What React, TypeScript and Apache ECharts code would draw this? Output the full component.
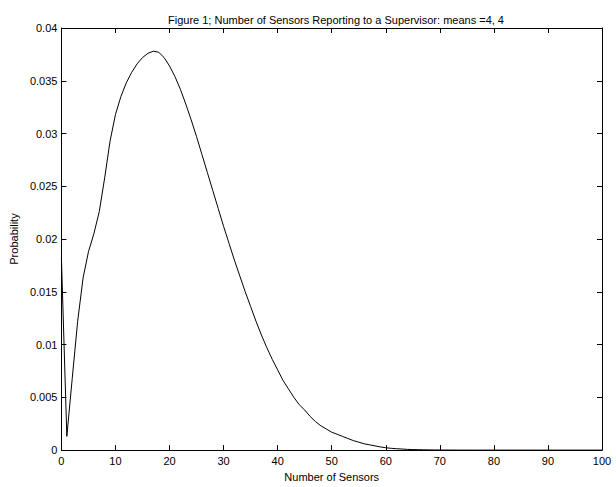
import React, { useEffect, useRef } from "react";
import * as echarts from "echarts";

const titleText = "Figure 1; Number of Sensors Reporting to a Supervisor: means =4, 4";
const xName = "Number of Sensors";
const yName = "Probability";

// probability values at x = 0, 1, 2, ... 100
const probability: number[] = [
  0.0182, 0.0013, 0.0068, 0.0122, 0.0163, 0.0188, 0.0205, 0.0226, 0.0258, 0.0293,
  0.0318, 0.0335, 0.0348, 0.0358, 0.0366, 0.0372, 0.0376, 0.0378, 0.0377, 0.0372,
  0.0364, 0.0354, 0.0342, 0.0328, 0.0313, 0.0297, 0.028, 0.0263, 0.0246, 0.0229,
  0.0212, 0.0196, 0.018, 0.0165, 0.015, 0.0136, 0.0122, 0.0109, 0.0097, 0.0086,
  0.0076, 0.0066, 0.0058, 0.005, 0.0043, 0.0038, 0.0032, 0.0027, 0.0023, 0.002,
  0.0017, 0.0015, 0.0013, 0.0011, 0.0009, 0.00075, 0.0006, 0.0005, 0.0004, 0.0003,
  0.00022, 0.00017, 0.00013, 0.0001, 0.00007, 0.00005, 0.00004, 0.00003, 0.00002, 0.000015,
  0.00001, 0.000007, 0.000005, 0.000003, 0.000002, 0.000001, 0, 0, 0, 0,
  0, 0, 0, 0, 0, 0, 0, 0, 0, 0,
  0, 0, 0, 0, 0, 0, 0, 0, 0, 0,
  0,
];

const xTicks = [0, 10, 20, 30, 40, 50, 60, 70, 80, 90, 100];
const yTicks = [0, 0.005, 0.01, 0.015, 0.02, 0.025, 0.03, 0.035, 0.04];

export default function App() {
  const ref = useRef<HTMLDivElement>(null);
  useEffect(() => {
    document.body.style.margin = "0";
    const chart = echarts.init(ref.current!, null, { renderer: "svg" });
    const font = "'Liberation Sans', Arial, Helvetica, sans-serif";
    const data = probability.map((v, i) => [i, v]);
    const axisLine = { show: true, onZero: false, lineStyle: { color: "#000", width: 1 } };
    const tick = { show: true, inside: true, length: 5, lineStyle: { color: "#000", width: 1 } };
    chart.setOption({
      animation: false,
      backgroundColor: "#fff",
      textStyle: { fontFamily: font },
      title: {
        text: titleText,
        left: 331,
        textAlign: "center",
        top: 9,
        textStyle: { fontSize: 11, fontWeight: "normal", color: "#000", fontFamily: font },
      },
      grid: { left: 61, right: 14, top: 28, bottom: 31 },
      xAxis: [
        {
          type: "value",
          min: xTicks[0],
          max: xTicks[xTicks.length - 1],
          interval: 10,
          name: xName,
          nameLocation: "middle",
          nameGap: 19,
          nameTextStyle: { fontSize: 11, color: "#000", fontFamily: font },
          axisLine,
          axisTick: tick,
          axisLabel: { color: "#000", fontSize: 11, margin: 5, fontFamily: font },
          splitLine: { show: false },
        },
        {
          type: "value",
          position: "top",
          min: xTicks[0],
          max: xTicks[xTicks.length - 1],
          interval: 10,
          axisLine,
          axisTick: tick,
          axisLabel: { show: false },
          splitLine: { show: false },
        },
      ],
      yAxis: [
        {
          type: "value",
          min: yTicks[0],
          max: yTicks[yTicks.length - 1],
          interval: 0.005,
          name: yName,
          nameLocation: "middle",
          nameGap: 42,
          nameRotate: 90,
          nameTextStyle: { fontSize: 11, color: "#000", fontFamily: font },
          axisLine,
          axisTick: tick,
          axisLabel: {
            color: "#000",
            fontSize: 11,
            margin: 4,
            fontFamily: font,
            formatter: (v: number) => String(+v.toFixed(3)),
          },
          splitLine: { show: false },
        },
        {
          type: "value",
          position: "right",
          min: yTicks[0],
          max: yTicks[yTicks.length - 1],
          interval: 0.005,
          axisLine,
          axisTick: tick,
          axisLabel: { show: false },
          splitLine: { show: false },
        },
      ],
      series: [
        {
          type: "line",
          data,
          showSymbol: false,
          symbol: "none",
          lineStyle: { color: "#000", width: 1 },
          xAxisIndex: 0,
          yAxisIndex: 0,
        },
      ],
    });
    return () => chart.dispose();
  }, []);
  return <div ref={ref} style={{ width: 616, height: 487 }} />;
}
